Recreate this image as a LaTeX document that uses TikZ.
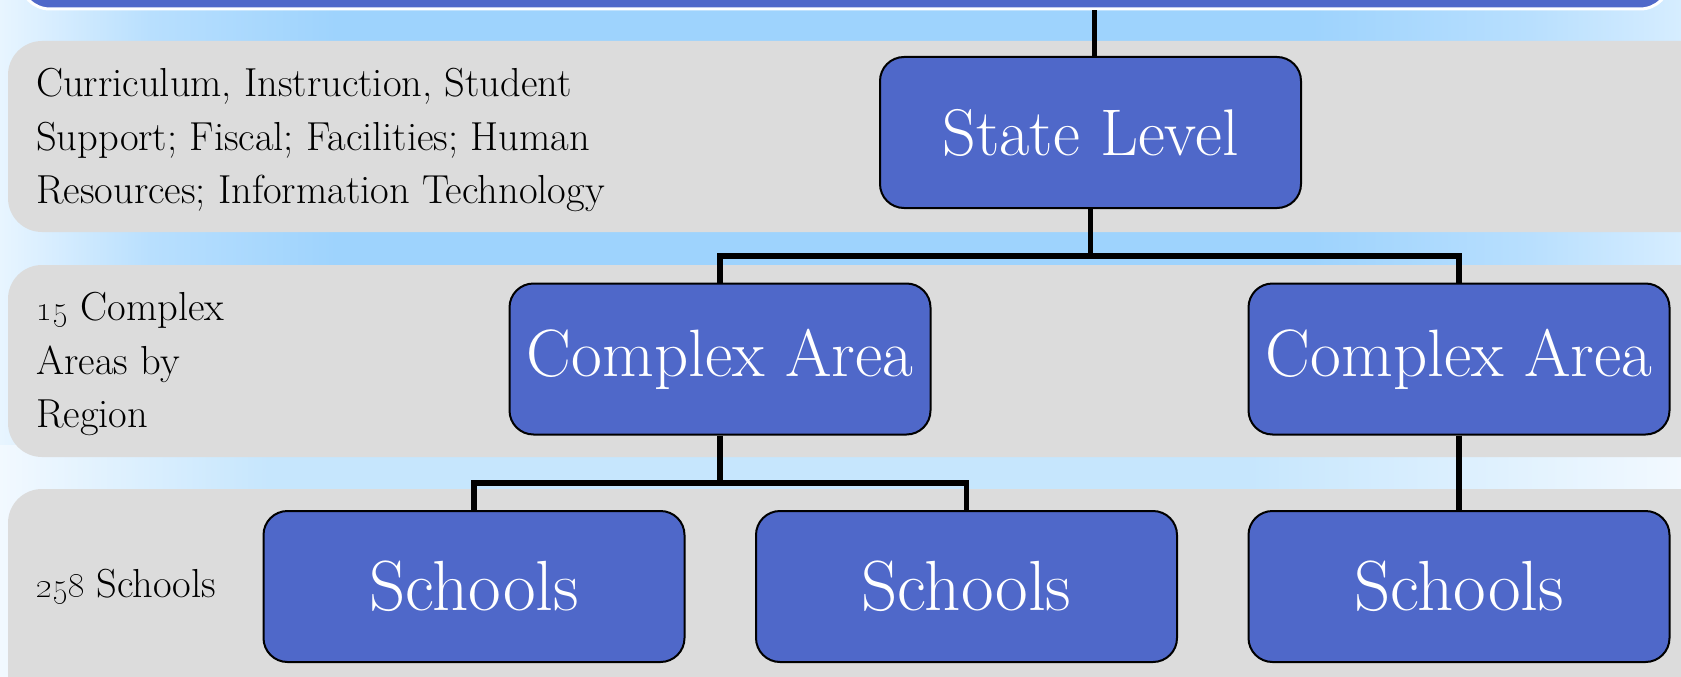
\documentclass[tikz,border=0pt]{standalone}
\usetikzlibrary{positioning}
\definecolor{boxblue}{HTML}{4F68C9}
\definecolor{bandgray}{HTML}{DCDCDC}
\definecolor{skyA}{HTML}{9ED3FD}
\definecolor{skyM}{HTML}{B8DFFE}
\definecolor{skyL}{HTML}{E8F5FF}
\definecolor{skyR}{HTML}{D6EDFF}
\definecolor{skyG}{HTML}{C6E6FD}
\definecolor{skyW}{HTML}{F2F9FF}
\pgfdeclarehorizontalshading{skyshade}{100bp}{color(0bp)=(skyL); color(25bp)=(skyL); color(29.5bp)=(skyM); color(35bp)=(skyA); color(64bp)=(skyA); color(70.5bp)=(skyM); color(75bp)=(skyR); color(100bp)=(skyR)}
\pgfdeclarehorizontalshading{lowshade}{100bp}{color(0bp)=(skyW); color(25bp)=(skyW); color(33bp)=(skyG); color(62bp)=(skyG); color(75bp)=(skyW); color(100bp)=(skyW)}
\tikzset{
  unitbox/.style={draw=black, line width=2pt, fill=boxblue, rounded corners=24pt,
    minimum width=421pt, minimum height=151pt, inner sep=0pt, text=white,
    font=\fontsize{67}{74}\selectfont},
  band/.style={fill=bandgray, rounded corners=34pt},
  conn/.style={draw=black, line width=5.5pt, line join=miter},
  sidetext/.style={inner sep=0pt, align=left, text=black,
    font=\fontsize{40.5}{53.5}\selectfont}
}
\begin{document}
\begin{tikzpicture}[x=1pt,y=-1pt]
\useasboundingbox (0,0) rectangle (1681,677);
% background
\shade[shading=skyshade] (0,0) rectangle (1681,677);
\shade[shading=lowshade] (0,445) rectangle (1681,677);
% top bar
\node[draw=white, line width=3pt, fill=boxblue, rounded corners=30pt,
  minimum width=1650pt, minimum height=90pt, inner sep=0pt] (topbar) at (845,-36) {};
% bands
\fill[band] (8,41) rectangle (1715,232);
\fill[band] (8,265) rectangle (1715,457);
\fill[band] (8,489) rectangle (1715,730);
% side texts
\node[sidetext, anchor=north west] (t1) at (36,68) {Curriculum, Instruction, Student\\Support; Fiscal; Facilities; Human\\Resources; Information Technology};
\node[sidetext, anchor=north west] (t2) at (36,292) {\oldstylenums{15} Complex\\Areas by\\Region};
\node[sidetext, anchor=base west] (t3) at (36,597) {\oldstylenums{258} Schools};
% boxes
\node[unitbox, font=\fontsize{66}{72}\selectfont] (state) at (1090.5,132.5) {State Level};
\node[unitbox] (ca1) at (720,359) {Complex Area};
\node[unitbox] (ca2) at (1459,359) {Complex Area};
\node[unitbox, font=\fontsize{71}{78}\selectfont] (s1) at (474,586.5) {Schools};
\node[unitbox, font=\fontsize{71}{78}\selectfont] (s2) at (966.5,586.5) {Schools};
\node[unitbox, font=\fontsize{71}{78}\selectfont] (s3) at (1459,586.5) {Schools};
% junctions
\coordinate (j1) at (1090.5,256);
\coordinate (j2) at (720,483);
% connectors
\draw[conn] ([xshift=4pt]state.north) -- ([xshift=4pt]state.north |- topbar.south);
\draw[conn] (state.south) -- (j1);
\draw[conn] (ca1.north) -- (ca1.north |- j1) -- (ca2.north |- j1) -- (ca2.north);
\draw[conn] (ca1.south) -- (j2);
\draw[conn] (s1.north) -- (s1.north |- j2) -- (s2.north |- j2) -- (s2.north);
\draw[conn] (ca2.south) -- (s3.north);
\end{tikzpicture}
\end{document}
